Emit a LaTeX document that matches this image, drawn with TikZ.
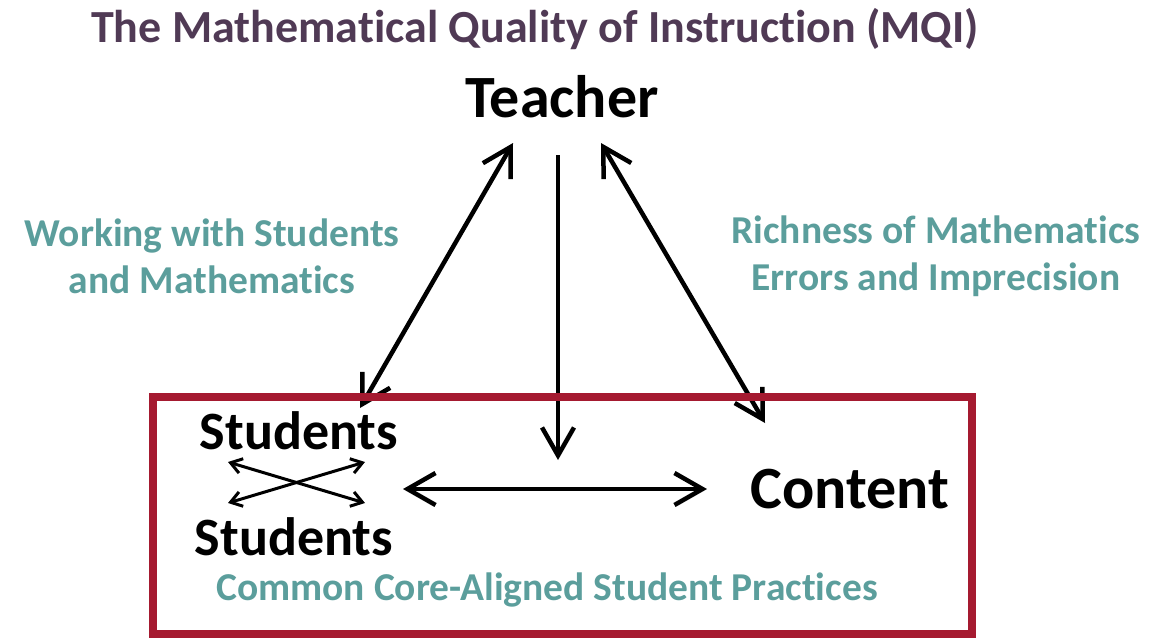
\documentclass[tikz,border=0pt]{standalone}
\usepackage{fontspec}
\setmainfont{Carlito}[Ligatures=NoCommon]
\usetikzlibrary{arrows.meta}
\definecolor{mqipurple}{HTML}{503A55}
\definecolor{mqiteal}{HTML}{5B9E9C}
\definecolor{mqired}{HTML}{A51A30}
\tikzset{
	bigarrow/.style={line width=4.5pt, {Straight Barb[length=28pt,width=32pt,line width=4.5pt]}-{Straight Barb[length=28pt,width=32pt,line width=4.5pt]}},
	smallarrow/.style={line width=3pt, {Straight Barb[length=11pt,width=15pt,line width=3pt]}-{Straight Barb[length=11pt,width=15pt,line width=3pt]}},
	label/.style={font=\fontsize{39.5}{47}\selectfont\bfseries, text=mqiteal, align=center, inner sep=0pt},
	actor/.style={font=\bfseries, text=black, inner sep=0pt}
}

\begin{document}
\begin{tikzpicture}[x=1pt, y=-1pt]
			%%%%% START %%%%%
			
			\useasboundingbox (0, 0) rectangle (1160, 638);
			
			\node[font=\fontsize{46}{50}\selectfont\bfseries, text=mqipurple, inner sep=0pt] (title) at (535, 29) {The Mathematical Quality of Instruction (MQI)};
			
			\node[actor, font=\fontsize{60}{66}\selectfont\bfseries] (teacher) at (562, 97) {Teacher};
			\node[actor, font=\fontsize{54}{60}\selectfont\bfseries] (studentsA) at (299, 431) {Students};
			\node[actor, font=\fontsize{54}{60}\selectfont\bfseries] (studentsB) at (294, 537) {Students};
			\node[actor, font=\fontsize{60}{66}\selectfont\bfseries] (content) at (850, 489) {Content};
			
			\node[label] (working) at (212, 256) {Working with Students\\and Mathematics};
			\node[label] (richness) at (936, 256) {Richness of Mathematics\\Errors and Imprecision};
			\node[label] (practices) at (547, 590) {Common Core-Aligned Student Practices};
			
			\coordinate (tleft) at (513, 143);
			\coordinate (tright) at (601, 143);
			\coordinate (tmid) at (558, 155);
			\coordinate (sleft) at (360, 408);
			\coordinate (cright) at (765, 423);
			\coordinate (mid) at (558, 460);
			\coordinate (hleft) at (403, 489);
			\coordinate (hright) at (707, 489);
			
			\draw[bigarrow] (tleft) -- (sleft);
			\draw[bigarrow] (tright) -- (cright);
			\draw[line width=4.5pt, -{Straight Barb[length=28pt,width=32pt,line width=4.5pt]}] (tmid) -- (mid);
			\draw[bigarrow] (hleft) -- (hright);
			
			\draw[smallarrow] (228, 462) coordinate (xa) -- (365, 503) coordinate (xb);
			\draw[smallarrow] (365, 462) coordinate (xc) -- (228, 503) coordinate (xd);
			
			\draw[line width=7.5pt, draw=mqired] (153, 397) rectangle (972, 634);
			
			%%%%% END %%%%%
\end{tikzpicture}
\end{document}
